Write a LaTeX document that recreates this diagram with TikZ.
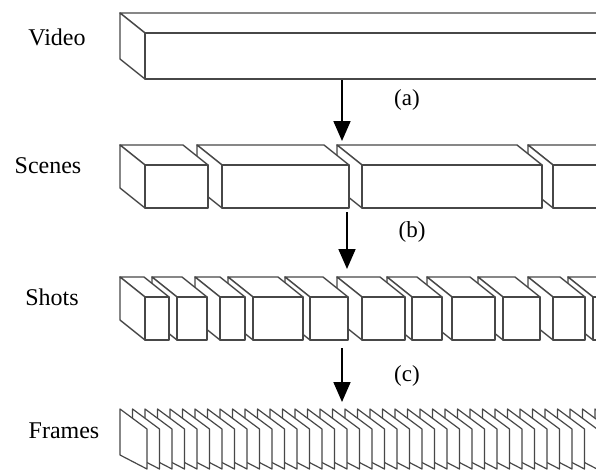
\documentclass[tikz,border=0pt]{standalone}
\usepackage{fontspec}
\setmainfont{Liberation Serif}
\usetikzlibrary{arrows.meta}

\tikzset{
  edge/.style={draw=black!72, line width=1.4pt, fill=white, line join=round},
  sheet/.style={draw=black!72, line width=1.2pt, fill=white, line join=round},
  flow/.style={-{Triangle[length=20pt,width=17pt]}, line width=1.8pt, black},
  rowlabel/.style={font=\fontsize{24}{28}\selectfont, inner sep=0pt},
  steplabel/.style={font=\fontsize{23}{27}\selectfont, inner sep=0pt},
}

% cuboid seen from the front right: front face (#1,#3)-(#2,#4),
% receding 25 to the left and 20 upwards
\newcommand\drawcuboid[4]{%
  \filldraw[edge] (#1,#3) -- (#1-25,#3-20) -- (#2-25,#3-20) -- (#2,#3) -- cycle;
  \filldraw[edge] (#1,#3) -- (#1-25,#3-20) -- (#1-25,#4-20) -- (#1,#4) -- cycle;
  \filldraw[edge] (#1,#3) rectangle (#2,#4);
}

\begin{document}
\begin{tikzpicture}[x=1pt,y=-1pt]
\path[use as bounding box, clip] (0,0) rectangle (596,471);

% whole video
\drawcuboid{145}{640}{33}{79}

% scenes, drawn back to front
\foreach \l/\r in {553/640, 362/542, 222/349, 145/208} {
  \drawcuboid{\l}{\r}{165}{208}
}

% shots, drawn back to front
\foreach \l/\r in {593/630, 553/585, 503/540, 452/495, 412/442, 362/405,
                   310/348, 253/303, 220/245, 177/207, 145/169} {
  \drawcuboid{\l}{\r}{297}{340}
}

% frames, drawn back to front
\foreach \i in {38,37,...,0} {
  \pgfmathsetmacro\fx{120+12.5*\i}
  \filldraw[sheet] (\fx,409) -- (\fx+27,429) -- (\fx+27,469) -- (\fx,455) -- cycle;
}

% row names
\node[rowlabel] (video)  at (57,37)  {Video};
\node[rowlabel] (scenes) at (48,166) {Scenes};
\node[rowlabel] (shots)  at (52,297) {Shots};
\node[rowlabel] (frames) at (64,431) {Frames};

% decomposition arrows
\coordinate (a1) at (342,80);  \coordinate (a2) at (342,141);
\coordinate (b1) at (347,212); \coordinate (b2) at (347,269);
\coordinate (c1) at (342,348); \coordinate (c2) at (342,402);
\draw[flow] (a1) -- (a2);
\draw[flow] (b1) -- (b2);
\draw[flow] (c1) -- (c2);

\node[steplabel] (la) at (407,100) {(a)};
\node[steplabel] (lb) at (412,232) {(b)};
\node[steplabel] (lc) at (407,376) {(c)};
\end{tikzpicture}
\end{document}
